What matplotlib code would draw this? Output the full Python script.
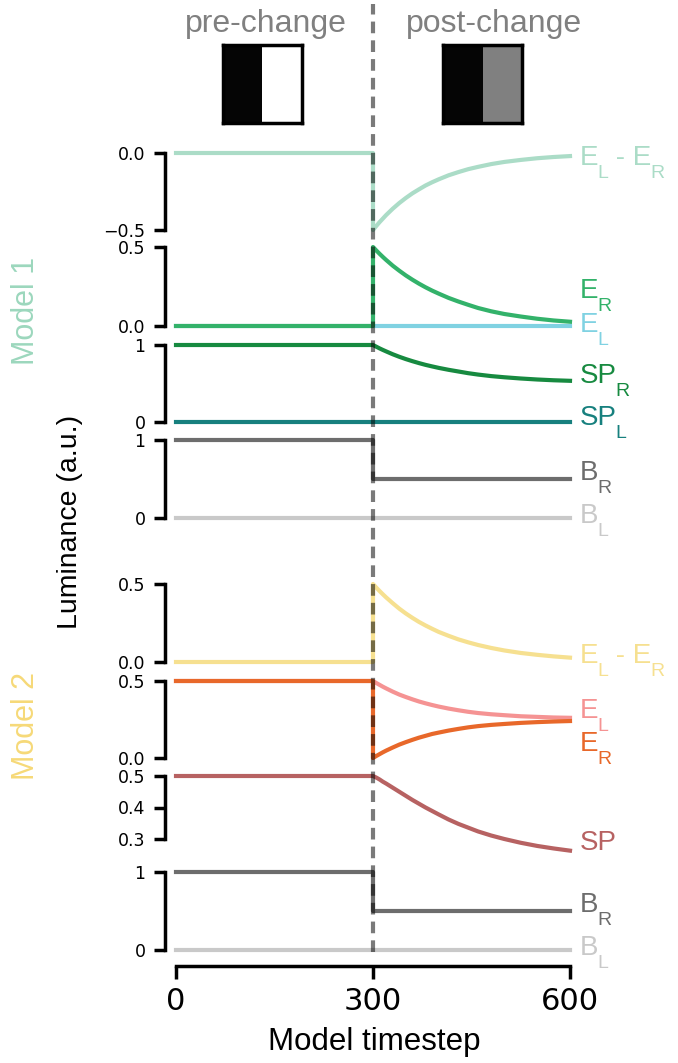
import numpy as np
import matplotlib.pyplot as plt

# ---- data ----
change_t = 300
t_post = [300, 305, 310, 315, 320, 330, 340, 350, 360, 370, 380, 390,
          400, 415, 430, 445, 460, 480, 500, 525, 550, 575, 600]

# Model 1
m1_diff = [-0.500, -0.474, -0.449, -0.426, -0.403, -0.362, -0.325, -0.292, -0.262, -0.236, -0.211, -0.190,
           -0.171, -0.145, -0.124, -0.105, -0.090, -0.072, -0.058, -0.045, -0.034, -0.026, -0.020]
m1_er = [0.500, 0.478, 0.457, 0.437, 0.418, 0.382, 0.350, 0.320, 0.293, 0.268, 0.245, 0.224,
         0.205, 0.178, 0.155, 0.134, 0.114, 0.093, 0.076, 0.060, 0.046, 0.035, 0.027]
m1_el = [0.0] * len(t_post)
m1_spr = [1.000, 0.978, 0.956, 0.936, 0.917, 0.880, 0.847, 0.817, 0.790, 0.765, 0.742, 0.722,
          0.703, 0.678, 0.656, 0.634, 0.616, 0.596, 0.581, 0.565, 0.552, 0.542, 0.535]
m1_spl = [0.0] * len(t_post)
br_post = [0.5] * len(t_post)
bl_post = [0.0] * len(t_post)

# Model 2
m2_diff = [0.500, 0.477, 0.455, 0.434, 0.414, 0.377, 0.342, 0.311, 0.283, 0.257, 0.234, 0.213,
           0.193, 0.168, 0.145, 0.126, 0.109, 0.090, 0.074, 0.058, 0.046, 0.036, 0.028]
m2_el = [0.500, 0.487, 0.475, 0.463, 0.452, 0.431, 0.412, 0.396, 0.381, 0.367, 0.355, 0.344,
         0.334, 0.321, 0.310, 0.300, 0.292, 0.284, 0.278, 0.271, 0.267, 0.263, 0.261]
m2_er = [0.000, 0.013, 0.025, 0.037, 0.048, 0.068, 0.087, 0.103, 0.118, 0.132, 0.144, 0.156,
         0.165, 0.178, 0.189, 0.199, 0.207, 0.215, 0.221, 0.228, 0.233, 0.237, 0.240]
m2_sp = [0.500, 0.495, 0.489, 0.482, 0.476, 0.463, 0.450, 0.437, 0.424, 0.412, 0.400, 0.389,
         0.378, 0.362, 0.348, 0.336, 0.324, 0.311, 0.300, 0.288, 0.278, 0.270, 0.263]

# stimulus luminance (left half, right half)
stim_pre = [0.02, 1.0]
stim_post = [0.02, 0.5]

W, H = 678, 1063
fig = plt.figure(figsize=(W / 100, H / 100), dpi=100)
fam = ['Liberation Sans', 'DejaVu Sans']


def box(x0, x1, y0, y1):
    # pixel box -> figure fraction
    return [x0 / W, 1 - y1 / H, (x1 - x0) / W, (y1 - y0) / H]


def trace(pre, post):
    return [0, change_t] + t_post, [pre, pre] + list(post)


def label(ax, y, parts, color):
    # parts alternate: main text, subscript, main text, subscript ...
    first = ax.text(615, y, parts[0], color=color, family=fam, fontsize=20, va='baseline')
    prev = first
    for i, s in enumerate(parts[1:]):
        if i % 2 == 0:
            prev = ax.annotate(s, xy=(1, 0), xycoords=prev, xytext=(-0.8, -4.8),
                               textcoords='offset points', va='baseline',
                               color=color, family=fam, fontsize=14)
        else:
            prev = ax.annotate(s, xy=(1, 0), xycoords=(prev, first), xytext=(0, 0),
                               textcoords='offset points', va='bottom',
                               color=color, family=fam, fontsize=20)


# (top px, bottom px, ylim, yticks)
panels = [
    (153, 230, (-0.5, 0), [-0.5, 0]),
    (247, 326, (0, 0.5), [0, 0.5]),
    (345, 422, (0, 1), [0, 1]),
    (440, 518, (0, 1), [0, 1]),
    (584, 662, (0, 0.5), [0, 0.5]),
    (681, 758, (0, 0.5), [0, 0.5]),
    (776, 839, (0.3, 0.5), [0.3, 0.4, 0.5]),
    (872, 950, (0, 1), [0, 1]),
]
axes = []
for top, bot, lim, ticks in panels:
    ax = fig.add_axes(box(176, 570, top, bot))
    ax.set_xlim(0, 600)
    ax.set_ylim(*lim)
    ax.set_yticks(ticks)
    ax.set_xticks([])
    for s in ['top', 'right', 'bottom']:
        ax.spines[s].set_visible(False)
    ax.spines['left'].set_position(('outward', 8))
    ax.spines['left'].set_linewidth(2.5)
    ax.spines['left'].set_bounds(*lim)
    ax.tick_params(axis='y', length=8, width=2.5, pad=6, labelsize=12.5)
    ax.patch.set_alpha(0)
    axes.append(ax)

lw = 3
# Model 1
ax = axes[0]
ax.plot(*trace(0, m1_diff), color='#abdcc7', lw=lw, clip_on=False)
label(ax, -0.078, ['E', 'L', ' - E', 'R'], '#abdcc7')

ax = axes[1]
ax.plot(*trace(0, m1_el), color='#80d2e2', lw=lw, clip_on=False)
ax.plot(*trace(0, m1_er), color='#33b26a', lw=lw, clip_on=False)
label(ax, 0.177, ['E', 'R'], '#33b26a')
label(ax, -0.038, ['E', 'L'], '#80d2e2')

ax = axes[2]
ax.plot(*trace(0, m1_spl), color='#17807e', lw=lw, clip_on=False)
ax.plot(*trace(1, m1_spr), color='#178a40', lw=lw, clip_on=False)
label(ax, 0.506, ['SP', 'R'], '#178a40')
label(ax, -0.04, ['SP', 'L'], '#17807e')

ax = axes[3]
ax.plot(*trace(0, bl_post), color='#c9c9c9', lw=lw, clip_on=False)
ax.plot(*trace(1, br_post), color='#6d6d6d', lw=lw, clip_on=False)
label(ax, 0.487, ['B', 'R'], '#6d6d6d')
label(ax, -0.064, ['B', 'L'], '#c9c9c9')

# Model 2
ax = axes[4]
ax.plot(*trace(0, m2_diff), color='#f6e090', lw=lw, clip_on=False)
label(ax, -0.006, ['E', 'L', ' - E', 'R'], '#f6e090')

ax = axes[5]
ax.plot(*trace(0.5, m2_el), color='#f59393', lw=lw, clip_on=False)
ax.plot(*trace(0.5, m2_er), color='#e8682a', lw=lw, clip_on=False)
label(ax, 0.26, ['E', 'L'], '#f59393')
label(ax, 0.045, ['E', 'R'], '#e8682a')

ax = axes[6]
ax.plot(*trace(0.5, m2_sp), color='#b76262', lw=lw, clip_on=False)
label(ax, 0.265, ['SP'], '#b76262')

ax = axes[7]
ax.plot(*trace(0, bl_post), color='#c9c9c9', lw=lw, clip_on=False)
ax.plot(*trace(1, br_post), color='#6d6d6d', lw=lw, clip_on=False)
label(ax, 0.487, ['B', 'R'], '#6d6d6d')
label(ax, -0.064, ['B', 'L'], '#c9c9c9')

# shared time axis on the last panel
ax.spines['bottom'].set_visible(True)
ax.spines['bottom'].set_position(('outward', 11.5))
ax.spines['bottom'].set_linewidth(2.5)
ax.spines['bottom'].set_bounds(0, 600)
ax.set_xticks([0, 300, 600])
ax.tick_params(axis='x', length=9, width=2.5, pad=6, labelsize=22)

# dashed change marker across all panels
ax_v = fig.add_axes(box(176, 570, 4, 952), zorder=10)
ax_v.set_xlim(0, 600)
ax_v.axis('off')
ax_v.axvline(change_t, color='k', alpha=0.52, lw=3, ls=(0, (2.8, 1.7)))

# stimulus icons
for stim, (x0, x1) in [(stim_pre, (223, 302)), (stim_post, (443, 522))]:
    ax_s = fig.add_axes(box(x0, x1, 45, 123))
    ax_s.imshow(np.array([stim]), cmap='gray', vmin=0, vmax=1, aspect='auto')
    ax_s.set_xticks([])
    ax_s.set_yticks([])
    for s in ax_s.spines.values():
        s.set_linewidth(2.5)

fig.text(266 / W, 1 - 32 / H, 'pre-change', ha='center', va='baseline', fontsize=23, color='#808080', family=fam)
fig.text(494 / W, 1 - 32 / H, 'post-change', ha='center', va='baseline', fontsize=23, color='#808080', family=fam)
fig.text(26 / W, 1 - 311 / H, 'Model 1', rotation=90, ha='center', va='center', fontsize=22, color='#9cd7bd', family=fam)
fig.text(26 / W, 1 - 726 / H, 'Model 2', rotation=90, ha='center', va='center', fontsize=22, color='#f6d978', family=fam)
fig.text(70 / W, 1 - 522 / H, 'Luminance (a.u.)', rotation=90, ha='center', va='center', fontsize=20.5, family=fam)
fig.text(374 / W, 1 - 1042 / H, 'Model timestep', ha='center', va='center', fontsize=22.5, family=fam)

fig.savefig('out.png', dpi=100)
